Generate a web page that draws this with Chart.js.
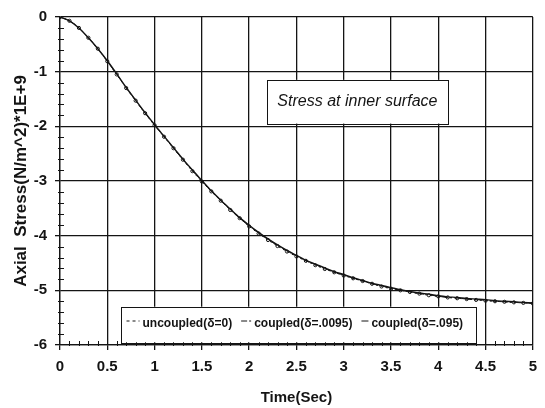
<!DOCTYPE html>
<html><head><meta charset="utf-8">
<script src="https://cdn.jsdelivr.net/npm/chart.js@4.4.0/dist/chart.umd.min.js"></script>
<style>html,body{margin:0;padding:0;background:#fff;} #wrap{width:545px;height:408px;position:relative;}</style>
</head><body><div id="wrap"><canvas id="c" width="545" height="408"></canvas></div>
<script>
const timeSec = [0,0.1,0.2,0.3,0.4,0.5,0.6,0.7,0.8,0.9,1.0,1.1,1.2,1.3,1.4,1.5,1.6,1.7,1.8,1.9,2.0,2.1,2.2,2.3,2.4,2.5,2.6,2.7,2.8,2.9,3.0,3.1,3.2,3.3,3.4,3.5,3.6,3.7,3.8,3.9,4.0,4.1,4.2,4.3,4.4,4.5,4.6,4.7,4.8,4.9,5.0];
const uncoupled = [0,-0.07,-0.20,-0.38,-0.58,-0.81,-1.05,-1.30,-1.53,-1.76,-1.98,-2.19,-2.40,-2.61,-2.82,-3.01,-3.19,-3.36,-3.53,-3.68,-3.83,-3.96,-4.08,-4.19,-4.29,-4.38,-4.46,-4.54,-4.61,-4.67,-4.73,-4.78,-4.83,-4.88,-4.93,-4.97,-5.00,-5.03,-5.06,-5.09,-5.11,-5.13,-5.145,-5.16,-5.175,-5.19,-5.20,-5.21,-5.22,-5.23,-5.24];
const coupled0095 = [0,-0.07,-0.20,-0.38,-0.58,-0.81,-1.05,-1.29,-1.53,-1.76,-1.98,-2.19,-2.40,-2.61,-2.81,-3.00,-3.19,-3.36,-3.52,-3.68,-3.82,-3.95,-4.07,-4.18,-4.28,-4.37,-4.46,-4.53,-4.60,-4.67,-4.72,-4.78,-4.83,-4.88,-4.92,-4.96,-5.00,-5.03,-5.06,-5.08,-5.11,-5.13,-5.14,-5.16,-5.17,-5.18,-5.20,-5.21,-5.22,-5.23,-5.24];
const coupled095 = [0,-0.07,-0.20,-0.38,-0.58,-0.80,-1.04,-1.29,-1.52,-1.75,-1.97,-2.18,-2.39,-2.60,-2.80,-2.99,-3.18,-3.35,-3.51,-3.67,-3.81,-3.94,-4.06,-4.17,-4.27,-4.36,-4.45,-4.52,-4.59,-4.66,-4.71,-4.77,-4.82,-4.87,-4.91,-4.95,-4.99,-5.02,-5.05,-5.07,-5.10,-5.12,-5.13,-5.15,-5.16,-5.17,-5.19,-5.20,-5.21,-5.22,-5.23];
const xTickValues = [0,0.5,1,1.5,2,2.5,3,3.5,4,4.5,5];
const xTickLabels = ['0','0.5','1','1.5','2','2.5','3','3.5','4','4.5','5'];
const yTickValues = [0,-1,-2,-3,-4,-5,-6];
const yTickLabels = ['0','-1','-2','-3','-4','-5','-6'];
const seriesLabels = ['uncoupled(\u03b4=0)','coupled(\u03b4=.0095)','coupled(\u03b4=.095)'];
const noteText = 'Stress at inner surface';
const xTitle = 'Time(Sec)';
const yTitle = 'Axial  Stress(N/m^2)*1E+9';

const toXY = arr => arr.map((v,i)=>({x:timeSec[i], y:v}));
const INK = '#141414';
const FONT = '"Liberation Sans", Arial, Helvetica, sans-serif';

const overlay = {
  id:'overlay',
  afterDraw(chart){
    const ctx = chart.ctx, xs = chart.scales.x, ys = chart.scales.y;
    const ca = chart.chartArea;
    ctx.save();
    ctx.strokeStyle = INK; ctx.lineWidth = 1;
    // minor ticks x
    for (let k=1;k<50;k++){ if (k%5===0) continue;
      const px = Math.round(xs.getPixelForValue(k/10))+0.5;
      ctx.beginPath(); ctx.moveTo(px, ca.bottom-4); ctx.lineTo(px, ca.bottom+1); ctx.stroke(); }
    // minor ticks y
    for (let k=1;k<30;k++){ if (k%5===0) continue;
      const py = Math.round(ys.getPixelForValue(-k/5))+0.5;
      ctx.beginPath(); ctx.moveTo(ca.left-2, py); ctx.lineTo(ca.left+4, py); ctx.stroke(); }
    // note box
    const bx0 = xs.getPixelForValue(2.19), bx1 = xs.getPixelForValue(4.1);
    const by0 = ys.getPixelForValue(-1.15), by1 = ys.getPixelForValue(-1.95);
    ctx.fillStyle = '#fff';
    ctx.fillRect(bx0, by0, bx1-bx0, by1-by0);
    ctx.strokeRect(Math.round(bx0)+0.5, Math.round(by0)+0.5, Math.round(bx1-bx0), Math.round(by1-by0));
    ctx.fillStyle = INK; ctx.font = 'italic 16px '+FONT; ctx.textAlign='center'; ctx.textBaseline='middle';
    ctx.fillText(noteText, (bx0+bx1)/2, (by0+by1)/2);
    // legend box
    const lx0 = xs.getPixelForValue(0.64), lx1 = xs.getPixelForValue(4.39);
    const ly0 = ys.getPixelForValue(-5.3), ly1 = ys.getPixelForValue(-5.95);
    ctx.fillStyle = '#fff';
    ctx.fillRect(lx0, ly0, lx1-lx0, ly1-ly0);
    ctx.strokeRect(Math.round(lx0)+0.5, Math.round(ly0)+0.5, Math.round(lx1-lx0), Math.round(ly1-ly0));
    const ty = (ly0+ly1)/2 - 1;
    ctx.font = 'bold 12px '+FONT; ctx.textAlign='left'; ctx.textBaseline='middle';
    const ds = chart.data.datasets;
    const sampleLen = [13,10,7];
    let cx = lx0 + 6;
    ds.forEach((d,i)=>{
      ctx.strokeStyle = INK; ctx.lineWidth = 1;
      ctx.setLineDash(d.legendDash||[]);
      ctx.beginPath(); ctx.moveTo(cx, ty-2.5); ctx.lineTo(cx+sampleLen[i], ty-2.5); ctx.stroke();
      ctx.setLineDash([]);
      cx += sampleLen[i] + 3;
      ctx.fillStyle = INK; ctx.fillText(d.label, cx, ty);
      cx += ctx.measureText(d.label).width + 9;
    });
    ctx.restore();
  }
};

new Chart(document.getElementById('c'), {
  type:'line',
  data:{ datasets:[
    {label:seriesLabels[0], data:toXY(uncoupled), borderColor:INK, borderWidth:1, borderDash:[2,3], legendDash:[3,3],
     pointRadius:1.6, pointBorderWidth:1, pointBorderColor:INK, pointBackgroundColor:'rgba(255,255,255,0)', tension:0.3},
    {label:seriesLabels[1], data:toXY(coupled0095), borderColor:INK, borderWidth:1, borderDash:[6,2,2,2], legendDash:[6,2,2,2],
     pointRadius:0, tension:0.3},
    {label:seriesLabels[2], data:toXY(coupled095), borderColor:INK, borderWidth:1.4,
     pointRadius:0, tension:0.3}
  ]},
  plugins:[overlay],
  options:{
    responsive:false, animation:false, devicePixelRatio:1,
    layout:{padding:{left:0, top:16, right:11, bottom:0}},
    plugins:{legend:{display:false}, tooltip:{enabled:false}},
    scales:{
      x:{type:'linear', min:0, max:5,
        afterBuildTicks:s=>{ s.ticks = xTickValues.map(v=>({value:v})); },
        afterFit:s=>{ s.height = 63; },
        ticks:{callback:(v)=>xTickLabels[xTickValues.indexOf(v)], color:INK, font:{family:FONT, size:15, weight:'bold'}, padding:8, maxRotation:0},
        grid:{color:INK, lineWidth:1.3, drawTicks:true, tickLength:5, tickColor:INK},
        border:{display:true, color:INK, width:1.3},
        title:{display:true, text:xTitle, color:INK, font:{family:FONT, size:15, weight:'bold'}, padding:{top:0,bottom:1}}
      },
      y:{type:'linear', min:-6, max:0,
        afterBuildTicks:s=>{ s.ticks = yTickValues.map(v=>({value:v})); },
        afterFit:s=>{ s.width = 60; },
        ticks:{callback:(v)=>yTickLabels[yTickValues.indexOf(v)], color:INK, font:{family:FONT, size:15, weight:'bold'}, padding:8},
        grid:{color:INK, lineWidth:1.3, drawTicks:true, tickLength:5, tickColor:INK},
        border:{display:true, color:INK, width:1.3},
        title:{display:true, text:yTitle, color:INK, font:{family:FONT, size:17, weight:'bold'}, padding:{top:11,bottom:0}}
      }
    }
  }
});
</script></body></html>
